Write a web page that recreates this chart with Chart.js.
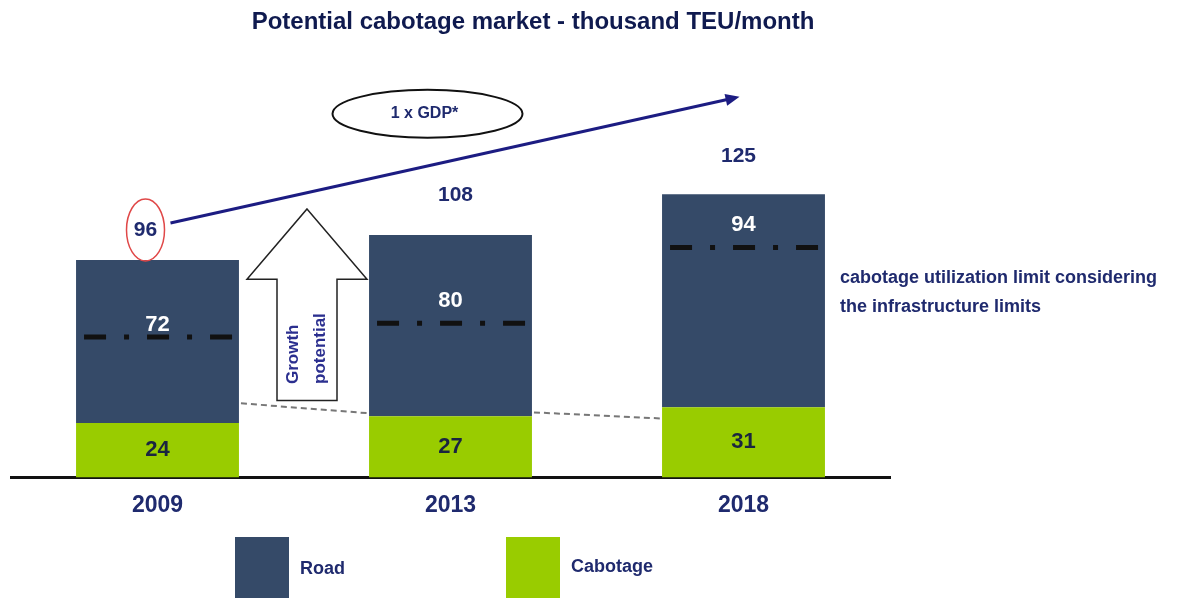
<!DOCTYPE html>
<html>
<head>
<meta charset="utf-8">
<script src="https://cdn.jsdelivr.net/npm/chart.js@4.4.1/dist/chart.umd.min.js"></script>
<style>
  html, body { margin: 0; padding: 0; background: #fff; }
</style>
</head>
<body>
<canvas id="myChart" width="1183" height="598"></canvas>
<script>
// chart data
const years = ['2009', '2013', '2018'];
const cabotage = [24, 27, 31];
const road = [72, 80, 94];
// totals as printed above the bars
const totals = [96, 108, 125];
// cabotage utilization limit (dash-dot marks), thousand TEU/month
const utilizationLimit = [62, 68, 101.5];
// grey dashed link between bars: [start value, end value]
const roadBaseLink = [[32.7, 28.3], [28.7, 26]];

const FONT = "'Liberation Sans', Arial, sans-serif";
const NAVY_TEXT = '#1f2a6e';
const ROAD_COLOR = '#354a68';
const CAB_COLOR = '#99cc00';

const annotations = {
    id: 'annotations',
    afterDatasetsDraw(chart) {
        const ctx = chart.ctx;
        const xs = chart.scales.x, ys = chart.scales.y;
        const cabBars = chart.getDatasetMeta(0).data;
        const roadBars = chart.getDatasetMeta(1).data;
        ctx.save();
        ctx.textAlign = 'center';
        ctx.textBaseline = 'middle';

        // grey dashed links
        ctx.strokeStyle = '#777';
        ctx.lineWidth = 2;
        ctx.setLineDash([6, 4]);
        roadBaseLink.forEach(function(v, i) {
            const a = roadBars[i], b = roadBars[i + 1];
            ctx.beginPath();
            ctx.moveTo(a.x + a.width / 2 + 2, ys.getPixelForValue(v[0]));
            ctx.lineTo(b.x - b.width / 2, ys.getPixelForValue(v[1]));
            ctx.stroke();
        });

        // dash-dot limit marks
        ctx.strokeStyle = '#111';
        ctx.lineWidth = 5;
        ctx.setLineDash([22, 18, 5, 18]);
        utilizationLimit.forEach(function(v, i) {
            const b = roadBars[i];
            const py = ys.getPixelForValue(v);
            ctx.beginPath();
            ctx.moveTo(b.x - b.width / 2 + 8, py);
            ctx.lineTo(b.x + b.width / 2 - 4, py);
            ctx.stroke();
        });
        ctx.setLineDash([]);

        // values in bars
        const roadLabelDy = [65, 66, 31];
        ctx.font = 'bold 22px ' + FONT;
        roadBars.forEach(function(b, i) {
            ctx.fillStyle = '#ffffff';
            ctx.fillText(road[i], b.x, b.y + roadLabelDy[i]);
        });
        cabBars.forEach(function(b, i) {
            ctx.fillStyle = '#1a2540';
            ctx.fillText(cabotage[i], b.x, (b.y + b.base) / 2);
        });

        // totals above bars
        const totalDx = [-12, 5, -5], totalDy = [-30, -40, -38];
        ctx.fillStyle = NAVY_TEXT;
        ctx.font = 'bold 21px ' + FONT;
        roadBars.forEach(function(b, i) {
            ctx.fillText(totals[i], b.x + totalDx[i], b.y + totalDy[i]);
        });

        // red ellipse around first total
        const r0 = roadBars[0];
        ctx.strokeStyle = '#e04848';
        ctx.lineWidth = 1.5;
        ctx.beginPath();
        ctx.ellipse(r0.x - 12, r0.y - 30, 19, 31, 0, 0, Math.PI * 2);
        ctx.stroke();

        // GDP growth arrow
        const ax0 = r0.x + 13, ay0 = r0.y - 37;
        const ax1 = xs.getPixelForValue(2) - 4, ay1 = ys.getPixelForValue(168);
        ctx.strokeStyle = '#1c1c82';
        ctx.fillStyle = '#1c1c82';
        ctx.lineWidth = 3;
        ctx.beginPath();
        ctx.moveTo(ax0, ay0);
        ctx.lineTo(ax1 - 10, ay1 + 2.2);
        ctx.stroke();
        const ang = Math.atan2(ay1 - ay0, ax1 - ax0);
        ctx.beginPath();
        ctx.moveTo(ax1, ay1);
        ctx.lineTo(ax1 - 14 * Math.cos(ang) + 6 * Math.sin(ang), ay1 - 14 * Math.sin(ang) - 6 * Math.cos(ang));
        ctx.lineTo(ax1 - 14 * Math.cos(ang) - 6 * Math.sin(ang), ay1 - 14 * Math.sin(ang) + 6 * Math.cos(ang));
        ctx.closePath();
        ctx.fill();

        // "1 x GDP*" ellipse
        const ex = (xs.getPixelForValue(0) + xs.getPixelForValue(2)) / 2 - 23;
        const ey = ys.getPixelForValue(160.5);
        ctx.strokeStyle = '#111';
        ctx.lineWidth = 2;
        ctx.beginPath();
        ctx.ellipse(ex, ey, 95, 24, 0, 0, Math.PI * 2);
        ctx.stroke();
        ctx.fillStyle = NAVY_TEXT;
        ctx.font = 'bold 16px ' + FONT;
        ctx.fillText('1 x GDP*', ex - 3, ey);

        // growth potential hollow arrow
        const gx = xs.getPixelForValue(0.5) + 3;
        const tipY = ys.getPixelForValue(118.5), headY = ys.getPixelForValue(87.5), botY = ys.getPixelForValue(34);
        ctx.strokeStyle = '#222';
        ctx.fillStyle = '#fff';
        ctx.lineWidth = 1.5;
        ctx.beginPath();
        ctx.moveTo(gx, tipY);
        ctx.lineTo(gx + 60, headY);
        ctx.lineTo(gx + 30, headY);
        ctx.lineTo(gx + 30, botY);
        ctx.lineTo(gx - 30, botY);
        ctx.lineTo(gx - 30, headY);
        ctx.lineTo(gx - 60, headY);
        ctx.closePath();
        ctx.fill();
        ctx.stroke();
        ctx.save();
        ctx.translate(gx, 384);
        ctx.rotate(-Math.PI / 2);
        ctx.textAlign = 'left';
        ctx.fillStyle = '#2b2f8f';
        ctx.font = 'bold 17px ' + FONT;
        ctx.fillText('Growth', 0, -14);
        ctx.fillText('potential', 0, 13);
        ctx.restore();

        // side note
        ctx.textAlign = 'left';
        ctx.fillStyle = NAVY_TEXT;
        ctx.font = 'bold 18px ' + FONT;
        ctx.fillText('cabotage utilization limit considering', 840, 278);
        ctx.fillText('the infrastructure limits', 840, 307);

        // title
        ctx.textAlign = 'center';
        ctx.fillStyle = '#0f1a4f';
        ctx.font = 'bold 24px ' + FONT;
        ctx.fillText('Potential cabotage market - thousand TEU/month', 533, 22);

        // legend
        const items = [chart.data.datasets[1], chart.data.datasets[0]];
        const legendX = [235, 506];
        ctx.textAlign = 'left';
        ctx.font = 'bold 18px ' + FONT;
        items.forEach(function(ds, i) {
            ctx.fillStyle = ds.backgroundColor;
            ctx.fillRect(legendX[i], 537, 54, 61);
            ctx.fillStyle = NAVY_TEXT;
            ctx.fillText(ds.label, legendX[i] + 65, 569 - i * 2);
        });
        ctx.restore();
    }
};

window.addEventListener('load', function() {
    let ctx = document.getElementById('myChart').getContext('2d');
    let chart = new Chart(ctx, {
        type: 'bar',
        data: {
            labels: years,
            datasets: [{
                label: 'Cabotage',
                backgroundColor: CAB_COLOR,
                data: cabotage
            }, {
                label: 'Road',
                backgroundColor: ROAD_COLOR,
                data: road
            }]
        },
        options: {
            responsive: false,
            animation: false,
            barPercentage: 0.556,
            categoryPercentage: 1,
            layout: { padding: { left: 11, right: 293, top: 47, bottom: 65 } },
            plugins: {
                legend: { display: false },
                tooltip: { enabled: false }
            },
            scales: {
                x: {
                    stacked: true,
                    grid: { display: false, drawTicks: false },
                    border: { display: true, color: '#111', width: 3 },
                    ticks: {
                        padding: 14,
                        color: NAVY_TEXT,
                        font: { family: FONT, size: 23, weight: 'bold' }
                    }
                },
                y: {
                    stacked: true,
                    display: false,
                    min: 0,
                    max: 190
                }
            }
        },
        plugins: [annotations]
    });
});
</script>
</body>
</html>
